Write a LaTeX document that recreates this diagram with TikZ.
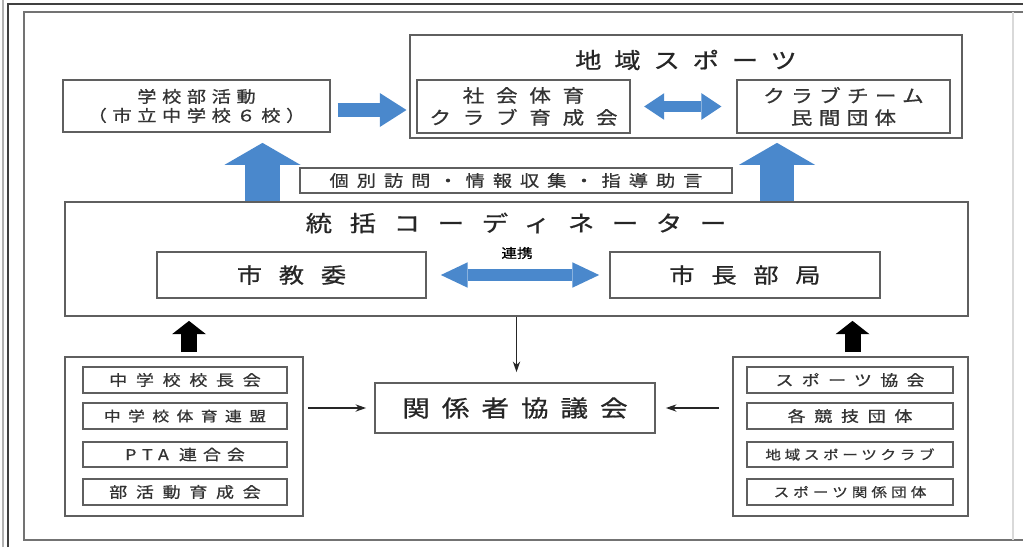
\documentclass[tikz,border=0pt]{standalone}
\usepackage{fontspec}
\setmainfont{Noto Sans CJK JP}[FakeStretch=1.2, FakeBold=0.8]
\usetikzlibrary{arrows.meta,calc}

\definecolor{arrowblue}{RGB}{74,136,204}
\definecolor{boxgray}{RGB}{95,95,95}
\newdimen\pxl \pxl=0.75pt

\tikzset{
  box/.style={draw=boxgray, line width=1.3pt, inner sep=0pt, align=center, text=black!80},
  bigtext/.style={font=\fontsize{15.75pt}{18pt}\selectfont\addfontfeature{LetterSpace=80}, text=black!85},
  midtext/.style={font=\fontsize{13.5pt}{16.5pt}\selectfont\addfontfeature{LetterSpace=#1}},
  listtext/.style={font=\fontsize{11.25pt}{13pt}\selectfont\addfontfeature{LetterSpace=#1}},
  smalltext/.style={font=\fontsize{9.75pt}{11pt}\selectfont\addfontfeature{LetterSpace=#1}},
  blueright/.style={draw=arrowblue, line width=10.5pt, -{Triangle[width=25.5pt, length=20pt, line width=0pt]}},
  bluedouble/.style={draw=arrowblue, line width=8pt, {Triangle[width=20pt, length=15pt, line width=0pt]}-{Triangle[width=20pt, length=15pt, line width=0pt]}},
  renkeiarrow/.style={draw=arrowblue, line width=9pt, {Triangle[width=19pt, length=20pt, line width=0pt]}-{Triangle[width=19pt, length=20pt, line width=0pt]}},
  blueup/.style={draw=arrowblue, line width=26pt, -{Triangle[width=57pt, length=16.5pt, line width=0pt]}},
  blackup/.style={draw=black, line width=12pt, -{Triangle[width=25.5pt, length=10pt, line width=0pt]}},
  thinarrow/.style={draw=black!85, line width=1.1pt, -{Stealth[length=8pt, width=5.5pt]}}
}

\begin{document}
\begin{tikzpicture}[x=0.75pt, y=-0.75pt]
   \useasboundingbox (0,0) rectangle (1023,547);

   % frame
   \draw[black!30, line width=0.8pt] (3,547) -- (3,0);
   \draw[black!75, line width=1.2pt] (8,547) -- (8,4) -- (1023,4);
   \draw[black!55, line width=1pt] (1023,12) -- (24,12) -- (24,540) -- (1023,540);
   \draw[black!15, line width=0.8pt] (1013,12) -- (1013,540);

   % top row
   \node[box, midtext=35, font=\fontsize{12pt}{14.25pt}\selectfont\addfontfeature{LetterSpace=35},
         minimum width=267\pxl, minimum height=52\pxl] (bukatsu) at (196.5,106)
         {学校部活動\\（市立中学校６校）};
   \node[box, minimum width=552\pxl, minimum height=103\pxl] (chiiki) at (686,86.5) {};
   \node[bigtext, font=\fontsize{16.5pt}{18pt}\selectfont\addfontfeature{LetterSpace=58}] (chiikititle) at (686,60) {地域スポーツ};
   \node[box, midtext=65, minimum width=213\pxl, minimum height=53\pxl] (shakai) at (523.5,106.5)
         {社会体育\\クラブ育成会};
   \node[box, midtext=35, minimum width=213\pxl, minimum height=53\pxl] (club) at (843.5,106.5)
         {クラブチーム\\民間団体};
   \draw[blueright, shorten <=5pt, shorten >=2pt] ([yshift=-3pt]bukatsu.east) -- ([yshift=-3pt]bukatsu.east -| chiiki.west);
   \draw[bluedouble, shorten <=10pt, shorten >=11pt] (shakai.east) -- (club.west);

   % coordinator
   \node[box, font=\fontsize{12pt}{14pt}\selectfont\addfontfeature{LetterSpace=50},
         minimum width=432\pxl, minimum height=25\pxl] (kobetsu) at (516,180.5)
         {個別訪問・情報収集・指導助言};
   \node[box, minimum width=903\pxl, minimum height=114\pxl] (coord) at (516.5,259) {};
   \node[bigtext, font=\fontsize{16.5pt}{18pt}\selectfont\addfontfeature{LetterSpace=80}] (coordtitle) at (516,223) {統括コーディネーター};
   \node[box, bigtext, minimum width=269\pxl, minimum height=46\pxl] (kyoiku) at (291.5,275) {市教委};
   \node[box, bigtext, minimum width=270\pxl, minimum height=46\pxl] (shicho) at (745,275) {市長部局};
   \node[smalltext=0] (renkei) at (517,253) {連携};
   \draw[renkeiarrow, shorten <=10.5pt, shorten >=7.5pt] (kyoiku.east) -- (shicho.west);

   \coordinate (upL) at ($(bukatsu.south)+(66,10)$);
   \coordinate (upR) at ($(chiiki.south)+(91,4)$);
   \draw[blueup] (upL |- coord.north) -- (upL);
   \draw[blueup] (upR |- coord.north) -- (upR);

   % bottom row
   \node[box, bigtext, font=\fontsize{17.25pt}{19pt}\selectfont\addfontfeature{LetterSpace=52},
         minimum width=280\pxl, minimum height=50\pxl] (kankei) at (515,408) {関係者協議会};

   \node[box, minimum width=238\pxl, minimum height=159\pxl] (lgroup) at (184,436.5) {};
   \node[box, listtext=58, minimum width=204\pxl, minimum height=26\pxl] (lg1) at (185,380) {中学校校長会};
   \node[box, listtext=53, font=\fontsize{10.5pt}{12pt}\selectfont\addfontfeature{LetterSpace=53},
         minimum width=204\pxl, minimum height=26\pxl] (lg2) at (185,416) {中学校体育連盟};
   \node[box, listtext=40, minimum width=204\pxl, minimum height=25\pxl] (lg3) at (185,454.5) {PTA 連合会};
   \node[box, listtext=58, minimum width=204\pxl, minimum height=26\pxl] (lg4) at (185,492) {部活動育成会};

   \node[box, minimum width=235\pxl, minimum height=159\pxl] (rgroup) at (850.5,436.5) {};
   \node[box, listtext=55, minimum width=206\pxl, minimum height=26\pxl] (rg1) at (850,380) {スポーツ協会};
   \node[box, listtext=58, minimum width=206\pxl, minimum height=26\pxl] (rg2) at (850,416) {各競技団体};
   \node[box, smalltext=28, minimum width=206\pxl, minimum height=25\pxl] (rg3) at (850,454.5) {地域スポーツクラブ};
   \node[box, smalltext=31, minimum width=206\pxl, minimum height=26\pxl] (rg4) at (850,492) {スポーツ関係団体};

   \draw[blackup] ($(lgroup.north)+(5,-4)$) -- ($(lgroup.north |- coord.south)+(5,4)$);
   \draw[blackup] ($(rgroup.north)+(2,-4)$) -- ($(rgroup.north |- coord.south)+(2,4)$);

   \draw[thinarrow, shorten >=7.5pt] (coord.south) -- (coord.south |- kankei.north);
   \draw[thinarrow, shorten <=3pt, shorten >=6pt] (lgroup.east |- kankei.west) -- (kankei.west);
   \draw[thinarrow, shorten <=9.75pt, shorten >=7.5pt] (rgroup.west |- kankei.east) -- (kankei.east);
\end{tikzpicture}
\end{document}
